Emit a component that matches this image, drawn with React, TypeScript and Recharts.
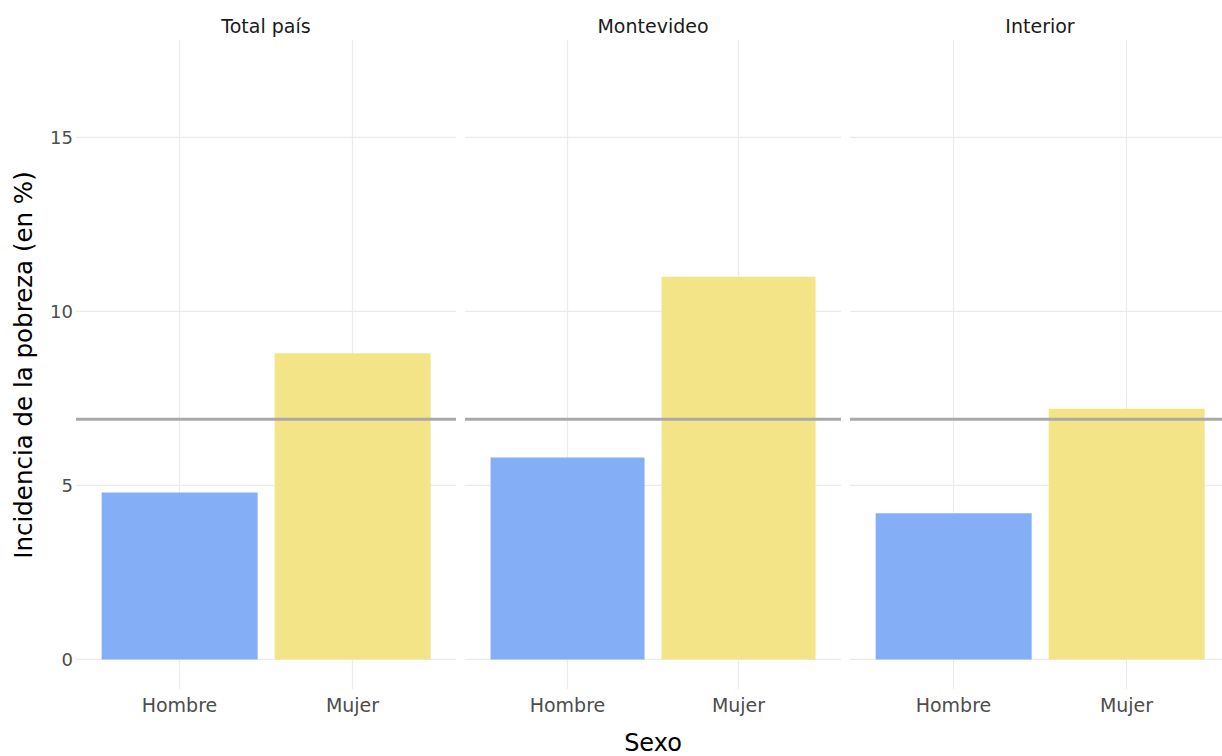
import React from 'react';
import { BarChart, Bar, XAxis, YAxis, CartesianGrid, ReferenceLine, Cell } from 'recharts';

const regions = ['Total país', 'Montevideo', 'Interior'];
const sexes = ['Hombre', 'Mujer'];
const hombreValues = [4.8, 5.8, 4.2];
const mujerValues = [8.8, 11.0, 7.2];
const overallAverage = 6.9;
const yTicks = [0, 5, 10, 15];
const yDomain = [-0.85, 17.8];
const sexColors = ['#84AEF5', '#F3E587'];

const FONT = '"DejaVu Sans", Verdana, sans-serif';

const panels = [
  { left: 0, width: 456, yAxis: true },
  { left: 465, width: 376, yAxis: false },
  { left: 850, width: 380, yAxis: false },
];

function Panel({ idx }: { idx: number }) {
  const p = panels[idx];
  const data = sexes.map((s, i) => ({
    sexo: s,
    valor: i === 0 ? hombreValues[idx] : mujerValues[idx],
  }));
  return (
    <div style={{ position: 'absolute', left: p.left, top: 0 }}>
      <BarChart
        width={p.width}
        height={756}
        data={data}
        margin={{ top: 40, right: 0, bottom: 0, left: 0 }}
        barCategoryGap="5%"
      >
        <CartesianGrid stroke="#EBEBEB" strokeWidth={1.2} syncWithTicks />
        <XAxis
          dataKey="sexo"
          type="category"
          height={67}
          padding={{ left: 17, right: 17 }}
          axisLine={false}
          tickLine={false}
          tickSize={6}
          tickMargin={4}
          tick={{ fill: '#4D4D4D', fontSize: 19, fontFamily: FONT }}
          interval={0}
        />
        <YAxis
          type="number"
          domain={yDomain}
          ticks={yTicks}
          allowDataOverflow
          hide={!p.yAxis}
          width={76}
          axisLine={false}
          tickLine={false}
          tickSize={0}
          tickMargin={3}
          tick={{ fill: '#4D4D4D', fontSize: 18, fontFamily: FONT }}
        />
        <Bar dataKey="valor" isAnimationActive={false}>
          {data.map((d, i) => (
            <Cell key={d.sexo} fill={sexColors[i]} />
          ))}
        </Bar>
        <ReferenceLine y={overallAverage} stroke="#A9A9A9" strokeWidth={3} />
      </BarChart>
    </div>
  );
}

export default function App() {
  const centers = [266, 653, 1040];
  return (
    <div
      style={{
        position: 'absolute',
        left: 0,
        top: 0,
        width: 1222,
        height: 756,
        overflow: 'hidden',
        background: '#FFFFFF',
      }}
    >
      {regions.map((r, i) => (
        <Panel key={r} idx={i} />
      ))}
      <svg
        width={1222}
        height={756}
        style={{ position: 'absolute', left: 0, top: 0, pointerEvents: 'none' }}
      >
        {regions.map((r, i) => (
          <text
            key={r}
            x={centers[i]}
            y={33}
            textAnchor="middle"
            fontSize={19}
            fontFamily={FONT}
            fill="#1A1A1A"
          >
            {r}
          </text>
        ))}
        <text x={653} y={751} textAnchor="middle" fontSize={24} fontFamily={FONT} fill="#000000">
          Sexo
        </text>
        <text
          transform="translate(32,365) rotate(-90)"
          textAnchor="middle"
          fontSize={24.5}
          fontFamily={FONT}
          fill="#000000"
        >
          Incidencia de la pobreza (en %)
        </text>
      </svg>
    </div>
  );
}
